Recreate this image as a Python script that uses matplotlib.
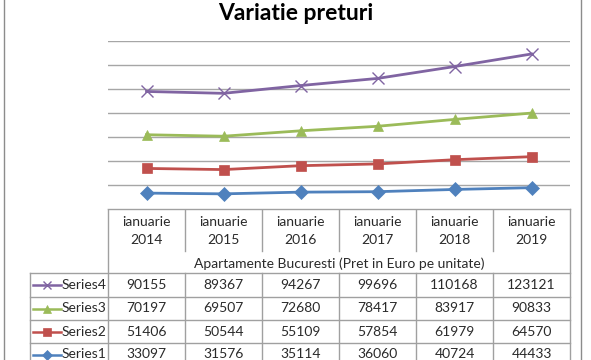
import matplotlib
matplotlib.use('Agg')
import numpy as np
import matplotlib.pyplot as plt
from matplotlib.lines import Line2D

# Data
years = ['2014', '2015', '2016', '2017', '2018', '2019']
month = 'ianuarie'
series_names = ['Series1', 'Series2', 'Series3', 'Series4']
series1 = [33097, 31576, 35114, 36060, 40724, 44433]
series2 = [51406, 50544, 55109, 57854, 61979, 64570]
series3 = [70197, 69507, 72680, 78417, 83917, 90833]
series4 = [90155, 89367, 94267, 99696, 110168, 123121]
title = 'Variatie preturi'
axis_title = 'Apartamente Bucuresti (Pret in Euro pe unitate)'

colors = ['#4F81BD', '#C0504D', '#9BBB59', '#8064A2']
markers = ['D', 's', '^', 'x']
FONT = 'Lato'
W, H = 591, 360
GRID = '#A6A6A6'
TXT = '#2a2a2a'

fig = plt.figure(figsize=(W / 100, H / 100), dpi=100)

# Plot area (pixel layout)
x0, x1, ytop, ybot = 108, 570, 41, 209
ax = fig.add_axes([x0 / W, 1 - ybot / H, (x1 - x0) / W, (ybot - ytop) / H])
data = np.array([series1, series2, series3, series4], dtype=float)
stacked = np.cumsum(data, axis=0)  # stacked line chart
xs = np.arange(len(years))
for i in range(4):
    ms = 7 if markers[i] != 'x' else 8
    ax.plot(xs, stacked[i], color=colors[i], linewidth=2, marker=markers[i],
            markersize=ms, markeredgewidth=1 if markers[i] == 'x' else 0.5,
            markeredgecolor=colors[i], zorder=3)
ax.set_xlim(-0.5, len(years) - 0.5)
ax.set_ylim(0, 350000)
ax.set_yticks(np.arange(0, 350001, 50000))
ax.yaxis.grid(True, color=GRID, linewidth=1)
ax.tick_params(left=False, bottom=False, labelleft=False, labelbottom=False)
for s in ['left', 'right', 'top', 'bottom']:
    ax.spines[s].set_visible(False)

# Data table drawn in pixel coords
tb = fig.add_axes([0, 0, 1, 1], zorder=-1)
tb.set_xlim(0, W)
tb.set_ylim(H, 0)
tb.axis('off')
fig.text(0.5, 1 - 14 / H, title, ha='center', va='center', fontsize=16.5,
         fontweight='bold', family=FONT)

col_w = (x1 - x0) / len(years)
lc = '#A0A0A0'
lw = 1
# outer chart border
tb.plot([4, 4], [0, H], color='#8C8C8C', lw=1)
tb.plot([581, 581], [0, H], color='#8C8C8C', lw=1)
# table lines
tb.plot([x0, x1], [ybot, ybot], color=lc, lw=lw)
tb.plot([x0, x0], [ybot, H], color=lc, lw=lw)
tb.plot([x1, x1], [ybot, H], color=lc, lw=lw)
for j in range(1, len(years)):
    xx = x0 + j * col_w
    tb.plot([xx, xx], [ybot, 251], color=lc, lw=lw)
    tb.plot([xx, xx], [273, H], color=lc, lw=lw)
row_lines = [273, 296.5, 320, 343]
for yy in row_lines:
    tb.plot([30, x1], [yy, yy], color=lc, lw=lw)
tb.plot([30, 30], [273, H], color=lc, lw=lw)

fs = 10
for j, yr in enumerate(years):
    cx = x0 + (j + 0.5) * col_w
    tb.text(cx, 222, month, ha='center', va='center', fontsize=fs, family=FONT, color=TXT)
    tb.text(cx, 240, yr, ha='center', va='center', fontsize=fs, family=FONT, color=TXT)
tb.text((x0 + x1) / 2, 264, axis_title, ha='center', va='center', fontsize=fs,
        family=FONT, color=TXT)

row_centers = [285, 308.5, 331.5, 354.5]
for r, i in enumerate([3, 2, 1, 0]):
    cy = row_centers[r]
    tb.add_line(Line2D([33, 61], [cy, cy], color=colors[i], lw=1.8))
    tb.plot([47], [cy], marker=markers[i], color=colors[i], markersize=5.5 if markers[i] != 'x' else 6,
            markeredgewidth=1 if markers[i] == 'x' else 0.5)
    tb.text(62, cy, series_names[i], ha='left', va='center', fontsize=fs, family=FONT, color=TXT)
    for j in range(len(years)):
        cx = x0 + (j + 0.5) * col_w
        tb.text(cx, cy, str(int(data[i][j])), ha='center', va='center', fontsize=fs,
                family=FONT, color=TXT)

plt.savefig('out.png', dpi=100)
plt.close()
